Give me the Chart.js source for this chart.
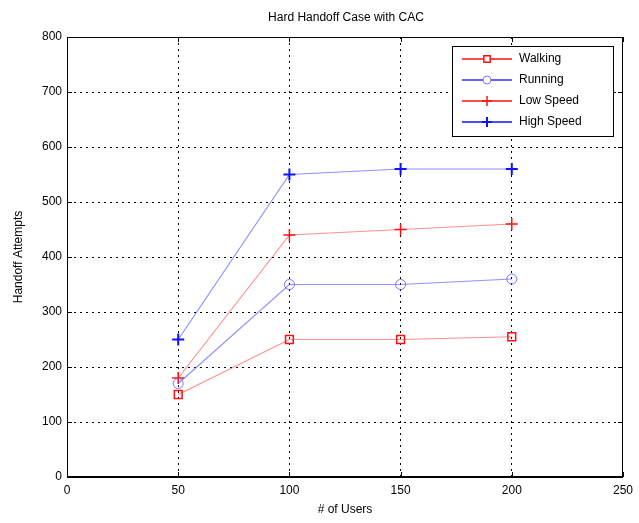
<!DOCTYPE html>
<html>
<head>
<meta charset="utf-8">
<script src="https://cdn.jsdelivr.net/npm/chart.js@4/dist/chart.umd.min.js"></script>
<style>
  html, body { margin: 0; padding: 0; background: #fff; }
  #wrap { width: 639px; height: 523px; }
</style>
</head>
<body>
<div id="wrap"><canvas id="c" width="639" height="523"></canvas></div>
<script>
// Data
const users = [50, 100, 150, 200];
const walking = [150, 250, 250, 255];
const running = [170, 350, 350, 360];
const lowSpeed = [180, 440, 450, 460];
const highSpeed = [250, 550, 560, 560];
const seriesNames = ["Walking", "Running", "Low Speed", "High Speed"];

const FONT = "'Liberation Sans', Arial, sans-serif";

const pts = arr => users.map((u, i) => ({ x: u, y: arr[i] }));

const styles = [
  { line: "rgba(255,70,70,0.6)", mark: "#ff1010", key: "#ff1010", point: "rect", r: 5.5, w: 1.5 },
  { line: "rgba(70,70,255,0.6)", mark: "rgba(90,90,255,0.8)", key: "#3030ff", point: "circle", r: 5, w: 1 },
  { line: "rgba(255,70,70,0.6)", mark: "#ff1010", key: "#ff1010", point: "cross", r: 6, w: 1.5 },
  { line: "rgba(70,70,255,0.6)", mark: "#1010ff", key: "#1010ff", point: "cross", r: 6, w: 2 }
];
const values = [walking, running, lowSpeed, highSpeed];

const datasets = values.map((v, i) => ({
  label: seriesNames[i],
  data: pts(v),
  showLine: true,
  borderColor: styles[i].line,
  borderWidth: 1.2,
  pointStyle: styles[i].point,
  pointRadius: styles[i].r,
  pointBorderColor: styles[i].mark,
  pointBackgroundColor: "rgba(0,0,0,0)",
  pointBorderWidth: styles[i].w,
  tension: 0
}));

// Title, frame, inward ticks and boxed legend
const extras = {
  id: "extras",
  afterDraw(chart) {
    const ctx = chart.ctx;
    const a = chart.chartArea;
    ctx.save();
    ctx.fillStyle = "#000";
    ctx.font = "12px " + FONT;
    ctx.textAlign = "center";
    ctx.textBaseline = "middle";
    ctx.fillText("Hard Handoff Case with CAC", 346, 18);

    // frame
    ctx.strokeStyle = "#000";
    ctx.lineWidth = 1;
    ctx.strokeRect(a.left + 0.5, a.top + 0.5, a.right - a.left - 1, a.bottom - a.top - 1);

    // inward ticks
    const xs = chart.scales.x, ys = chart.scales.y;
    ctx.beginPath();
    xs.ticks.forEach(t => {
      const px = Math.round(xs.getPixelForValue(t.value)) + 0.5;
      ctx.moveTo(px, a.bottom); ctx.lineTo(px, a.bottom - 5);
      ctx.moveTo(px, a.top); ctx.lineTo(px, a.top + 5);
    });
    ys.ticks.forEach(t => {
      const py = Math.round(ys.getPixelForValue(t.value)) + 0.5;
      ctx.moveTo(a.left, py); ctx.lineTo(a.left + 5, py);
      ctx.moveTo(a.right, py); ctx.lineTo(a.right - 5, py);
    });
    ctx.stroke();

    // legend
    const bx = 452, by = 46, bw = 161, bh = 90;
    ctx.fillStyle = "#fff";
    ctx.fillRect(bx, by, bw, bh);
    ctx.strokeStyle = "#000";
    ctx.strokeRect(bx + 0.5, by + 0.5, bw, bh);
    const rowY = [59, 80, 101, 122];
    chart.data.datasets.forEach((ds, i) => {
      const y = rowY[i];
      ctx.strokeStyle = styles[i].key;
      ctx.lineWidth = 1.5;
      ctx.beginPath();
      ctx.moveTo(462, y); ctx.lineTo(512, y);
      ctx.stroke();
      ctx.fillStyle = "#fff";
      ctx.strokeStyle = ds.pointBorderColor;
      ctx.lineWidth = ds.pointBorderWidth;
      Chart.helpers.drawPoint(ctx, {
        pointStyle: ds.pointStyle,
        radius: ds.pointRadius - 1,
        borderWidth: ds.pointBorderWidth
      }, 487, y);
      ctx.fillStyle = "#000";
      ctx.font = "12px " + FONT;
      ctx.textAlign = "left";
      ctx.fillText(ds.label, 519, y);
    });
    ctx.restore();
  }
};

new Chart(document.getElementById("c"), {
  type: "scatter",
  data: { datasets: datasets },
  plugins: [extras],
  options: {
    responsive: false,
    animation: false,
    layout: { padding: { top: 37, right: 13, left: 0, bottom: 0 } },
    plugins: {
      legend: { display: false },
      title: { display: false },
      tooltip: { enabled: false }
    },
    scales: {
      x: {
        type: "linear",
        min: 0,
        max: 250,
        ticks: { stepSize: 50, color: "#000", padding: 6, font: { family: FONT, size: 12 } },
        grid: { color: "#000", lineWidth: 1, drawTicks: false },
        border: { display: true, color: "#000", width: 1, dash: [2, 4] },
        title: { display: true, text: "# of Users", color: "#000", font: { family: FONT, size: 12 }, padding: { top: 2, bottom: 6 } },
        afterFit: s => { s.height = 46; }
      },
      y: {
        min: 0,
        max: 800,
        ticks: { stepSize: 100, color: "#000", padding: 5, font: { family: FONT, size: 12 } },
        grid: { color: "#000", lineWidth: 1, drawTicks: false },
        border: { display: true, color: "#000", width: 1, dash: [2, 4] },
        title: { display: true, text: "Handoff Attempts", color: "#000", font: { family: FONT, size: 12 }, padding: { top: 11, bottom: 4 } },
        afterFit: s => { s.width = 67; }
      }
    }
  }
});
</script>
</body>
</html>
